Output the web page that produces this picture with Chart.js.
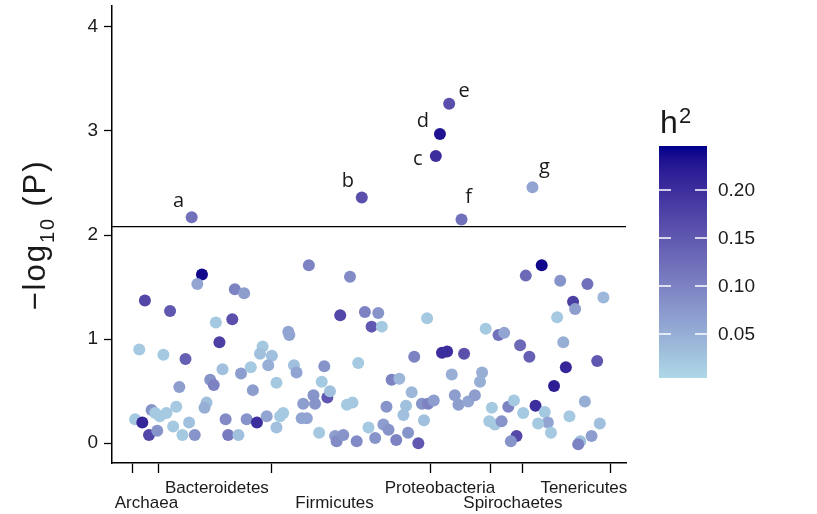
<!DOCTYPE html>
<html>
<head>
<meta charset="utf-8">
<script src="https://cdn.jsdelivr.net/npm/chart.js@4.4.1/dist/chart.umd.min.js"></script>
<style>
  body { margin: 0; background: #fff; }
</style>
</head>
<body>
<canvas id="myChart" width="817" height="514"></canvas>
<script>
// Taxa association plot: -log10(P) per taxon, coloured by heritability (h2)

// Position of each taxon along the phylum-ordered axis (0..100)
const positions = [
  17.5, 16.6, 23.9, 25.7, 6.4, 11.3, 20.2, 23.4, 20.9, 5.3,
  10.0, 14.3, 29.3, 28.8, 31.1, 30.4, 21.5, 25.1, 27.0, 13.1,
  19.1, 19.8, 27.4, 32.0, 18.4, 18.0, 7.7, 8.4, 9.3, 10.6,
  12.5, 4.5, 5.9, 7.2, 8.8, 11.9, 13.7, 15.0, 16.1, 22.1,
  22.6, 24.6, 26.2, 28.2, 30.1, 32.0,
  38.3, 46.3, 44.4, 49.2, 51.8, 50.5, 52.5, 61.3, 34.5, 34.3,
  35.4, 35.9, 41.3, 47.9, 40.8, 54.4, 55.9, 58.8, 64.2, 58.3,
  39.2, 39.5, 41.9, 42.4, 37.2, 45.7, 46.8, 33.3, 32.7, 36.9,
  37.9, 53.4, 57.2, 56.7, 60.3, 61.5, 62.6, 60.7, 40.3, 43.4,
  43.7, 45.0, 47.6, 49.9, 51.2, 52.8, 53.8, 55.3, 57.6, 59.6,
  83.6, 80.5, 87.2, 92.5, 95.6, 89.7, 90.1, 86.6, 72.7, 75.2,
  76.3, 79.4, 81.2, 87.8, 65.2, 68.5, 88.3, 94.4, 86.0, 66.1,
  72.0, 71.6, 66.7, 67.4, 69.3, 70.6, 73.9, 73.4, 74.5, 75.8,
  77.1, 78.2, 80.0, 82.4, 84.2, 84.8, 82.9, 85.4, 78.7, 77.6,
  89.0, 92.0, 94.9, 93.3, 91.1, 90.7
];

const logP = [
  1.62, 1.53, 1.48, 1.44, 1.37, 1.27, 1.16, 1.19, 0.97, 0.90,
  0.85, 0.81, 0.93, 0.86, 0.84, 0.75, 0.71, 0.67, 0.73, 0.54,
  0.61, 0.56, 0.51, 0.58, 0.39, 0.34, 0.32, 0.29, 0.26, 0.29,
  0.35, 0.23, 0.20, 0.08, 0.12, 0.16, 0.08, 0.20, 0.08, 0.23,
  0.08, 0.08, 0.23, 0.20, 0.26, 0.15,
  1.71, 1.60, 1.23, 1.26, 1.25, 1.12, 1.12, 1.20, 1.04, 1.07,
  0.75, 0.68, 0.74, 0.77, 0.59, 0.61, 0.62, 0.83, 0.87, 0.49,
  0.46, 0.38, 0.44, 0.50, 0.38, 0.37, 0.39, 0.29, 0.26, 0.24,
  0.24, 0.35, 0.36, 0.27, 0.38, 0.38, 0.41, 0.22, 0.10, 0.07,
  0.02, 0.08, 0.02, 0.15, 0.05, 0.18, 0.13, 0.03, 0.10, 0.00,
  1.71, 1.61, 1.56, 1.53, 1.40, 1.36, 1.29, 1.21, 1.10, 1.04,
  1.06, 0.94, 0.83, 0.97, 0.88, 0.86, 0.73, 0.79, 0.55, 0.66,
  0.68, 0.59, 0.46, 0.37, 0.40, 0.46, 0.34, 0.21, 0.18, 0.21,
  0.35, 0.41, 0.29, 0.36, 0.30, 0.20, 0.19, 0.10, 0.07, 0.02,
  0.26, 0.40, 0.19, 0.07, 0.02, -0.01
];

const h2 = [
  0.24, 0.06, 0.10, 0.07, 0.17, 0.15, 0.02, 0.16, 0.18, 0.02,
  0.02, 0.14, 0.02, 0.03, 0.03, 0.05, 0.03, 0.07, 0.02, 0.07,
  0.08, 0.10, 0.07, 0.02, 0.03, 0.05, 0.08, 0.02, 0.02, 0.02,
  0.02, 0.02, 0.21, 0.17, 0.08, 0.02, 0.02, 0.03, 0.08, 0.09,
  0.11, 0.03, 0.08, 0.20, 0.06, 0.03,
  0.10, 0.09, 0.17, 0.10, 0.08, 0.15, 0.02, 0.02, 0.06, 0.06,
  0.03, 0.06, 0.08, 0.02, 0.02, 0.10, 0.04, 0.10, 0.20, 0.04,
  0.08, 0.08, 0.15, 0.03, 0.07, 0.02, 0.02, 0.02, 0.02, 0.06,
  0.06, 0.08, 0.03, 0.03, 0.08, 0.10, 0.07, 0.03, 0.02, 0.07,
  0.09, 0.08, 0.09, 0.02, 0.08, 0.07, 0.08, 0.10, 0.08, 0.15,
  0.24, 0.13, 0.08, 0.12, 0.04, 0.18, 0.07, 0.02, 0.02, 0.12,
  0.06, 0.13, 0.14, 0.05, 0.20, 0.16, 0.21, 0.15, 0.22, 0.05,
  0.05, 0.05, 0.07, 0.07, 0.06, 0.07, 0.02, 0.02, 0.02, 0.08,
  0.10, 0.02, 0.02, 0.20, 0.02, 0.06, 0.02, 0.02, 0.17, 0.08,
  0.02, 0.05, 0.03, 0.07, 0.03, 0.10
];

// Significant taxa, labelled a-g
const hitNames = ['a', 'b', 'c', 'd', 'e', 'f', 'g'];
const hitPositions = [15.5, 48.6, 63.0, 63.8, 65.6, 68.0, 81.8];
const hitLogP = [2.17, 2.36, 2.76, 2.97, 3.26, 2.15, 2.46];
const hitH2 = [0.12, 0.16, 0.20, 0.23, 0.16, 0.12, 0.06];

// Significance threshold
const threshold = 2.08;

// Phylum axis: tick boundaries and label centres
const phylumTicks = [4.0, 9.0, 31.1, 61.9, 73.7, 79.9, 96.9];
const phylumNames = ['Archaea', 'Bacteroidetes', 'Firmicutes', 'Proteobacteria', 'Spirochaetes', 'Tenericutes'];
const phylumCentres = [6.7, 20.4, 43.3, 63.8, 78.0, 91.8];
const phylumRows = [2, 1, 2, 1, 2, 1];

const yTicks = [0, 1, 2, 3, 4];
const h2Range = [0.004, 0.246];
const h2LegendTicks = [0.05, 0.10, 0.15, 0.20];

// label offsets (px) for the a-g annotations
const hitLabelOffsets = [[-13, -16], [-14, -16], [-18, 3], [-17, -13], [15, -13], [7, -22], [12, -20]];

// Colour scale: lightblue -> darkblue interpolated in Lab space
const lowRGB = [173, 216, 230];
const highRGB = [0, 0, 139];

function toLinear(c) {
  c /= 255;
  return c <= 0.04045 ? c / 12.92 : Math.pow((c + 0.055) / 1.055, 2.4);
}
function toSrgb(c) {
  const v = c <= 0.0031308 ? 12.92 * c : 1.055 * Math.pow(c, 1 / 2.4) - 0.055;
  return Math.round(Math.min(1, Math.max(0, v)) * 255);
}
function rgbToLab(rgb) {
  const [r, g, b] = rgb.map(toLinear);
  const x = (0.4124 * r + 0.3576 * g + 0.1805 * b) / 0.95047;
  const y = 0.2126 * r + 0.7152 * g + 0.0722 * b;
  const z = (0.0193 * r + 0.1192 * g + 0.9505 * b) / 1.08883;
  const f = t => t > 0.008856 ? Math.cbrt(t) : 7.787 * t + 16 / 116;
  return [116 * f(y) - 16, 500 * (f(x) - f(y)), 200 * (f(y) - f(z))];
}
function labToRgb(lab) {
  const fy = (lab[0] + 16) / 116, fx = fy + lab[1] / 500, fz = fy - lab[2] / 200;
  const inv = t => t * t * t > 0.008856 ? t * t * t : (t - 16 / 116) / 7.787;
  const x = inv(fx) * 0.95047, y = inv(fy), z = inv(fz) * 1.08883;
  return [
    toSrgb(3.2406 * x - 1.5372 * y - 0.4986 * z),
    toSrgb(-0.9689 * x + 1.8758 * y + 0.0415 * z),
    toSrgb(0.0557 * x - 0.2040 * y + 1.0570 * z)
  ];
}
const lowLab = rgbToLab(lowRGB);
const highLab = rgbToLab(highRGB);

function h2Color(h) {
  let t = (h - h2Range[0]) / (h2Range[1] - h2Range[0]);
  t = Math.min(1, Math.max(0, t));
  const rgb = labToRgb(lowLab.map((v, i) => v + (highLab[i] - v) * t));
  return 'rgb(' + rgb.join(',') + ')';
}

const textColor = '#1a1a1a';
const fontFamily = '"Liberation Sans", Arial, sans-serif';

// Extra drawing: axis title with subscript, phylum names, hit labels, colour bar
const extras = {
  id: 'extras',
  afterDraw(chart) {
    const ctx = chart.ctx;
    const xs = chart.scales.x;
    const ys = chart.scales.y;
    const area = chart.chartArea;

    // y axis title: -log10 (P)
    ctx.save();
    ctx.fillStyle = textColor;
    ctx.translate(45, 235);
    ctx.rotate(-Math.PI / 2);
    ctx.textBaseline = 'alphabetic';
    ctx.textAlign = 'left';
    ctx.letterSpacing = '2px';
    const bigFont = '31px ' + fontFamily;
    const smallFont = '20px ' + fontFamily;
    ctx.font = bigFont;
    const wLog = ctx.measureText('\u2212log').width;
    const wP = ctx.measureText('(P)').width;
    ctx.font = smallFont;
    const wSub = ctx.measureText('10').width;
    const gap = 10;
    let cx = -(wLog + wSub + gap + wP) / 2;
    ctx.font = bigFont;
    ctx.fillText('\u2212log', cx, 0);
    cx += wLog;
    ctx.font = smallFont;
    ctx.fillText('10', cx, 9);
    cx += wSub + gap;
    ctx.font = bigFont;
    ctx.fillText('(P)', cx, 0);
    ctx.restore();

    // phylum names under the x axis, two staggered rows
    ctx.save();
    ctx.fillStyle = textColor;
    ctx.font = '17px ' + fontFamily;
    ctx.textAlign = 'center';
    ctx.textBaseline = 'alphabetic';
    phylumNames.forEach((name, i) => {
      const px = xs.getPixelForValue(phylumCentres[i]);
      const py = phylumRows[i] === 1 ? 493 : 508;
      ctx.fillText(name, px, py);
    });
    ctx.restore();

    // hit labels
    ctx.save();
    ctx.fillStyle = textColor;
    ctx.font = '20px "Open Sans", ' + fontFamily;
    ctx.textAlign = 'center';
    ctx.textBaseline = 'middle';
    hitNames.forEach((name, i) => {
      const px = xs.getPixelForValue(hitPositions[i]) + hitLabelOffsets[i][0];
      const py = ys.getPixelForValue(hitLogP[i]) + hitLabelOffsets[i][1];
      ctx.fillText(name, px, py);
    });
    ctx.restore();

    // colour bar legend
    const barLeft = 659, barWidth = 48, barTop = 146, barBottom = 378;
    const grad = ctx.createLinearGradient(0, barBottom, 0, barTop);
    for (let s = 0; s <= 20; s++) {
      const h = h2Range[0] + (h2Range[1] - h2Range[0]) * s / 20;
      grad.addColorStop(s / 20, h2Color(h));
    }
    ctx.save();
    ctx.fillStyle = grad;
    ctx.fillRect(barLeft, barTop, barWidth, barBottom - barTop);
    ctx.strokeStyle = '#fff';
    ctx.lineWidth = 1.5;
    ctx.fillStyle = textColor;
    ctx.font = '19px ' + fontFamily;
    ctx.textAlign = 'left';
    ctx.textBaseline = 'middle';
    h2LegendTicks.forEach(v => {
      const py = barBottom - (v - h2Range[0]) / (h2Range[1] - h2Range[0]) * (barBottom - barTop);
      ctx.beginPath();
      ctx.moveTo(barLeft, py);
      ctx.lineTo(barLeft + 12, py);
      ctx.moveTo(barLeft + barWidth - 12, py);
      ctx.lineTo(barLeft + barWidth, py);
      ctx.stroke();
      ctx.fillText(v.toFixed(2), barLeft + barWidth + 11, py + 1);
    });
    // legend title h^2
    ctx.textBaseline = 'alphabetic';
    ctx.font = '32px ' + fontFamily;
    ctx.fillText('h', 660, 133);
    ctx.font = '22px ' + fontFamily;
    ctx.fillText('2', 679, 123);
    ctx.restore();
  }
};

const points = positions.map((x, i) => ({ x: x, y: logP[i] }));
const hits = hitPositions.map((x, i) => ({ x: x, y: hitLogP[i] }));

const chart = new Chart(document.getElementById('myChart'), {
  type: 'scatter',
  data: {
    datasets: [
      {
        label: 'taxa',
        data: points,
        pointRadius: 6,
        pointBorderWidth: 0,
        pointBackgroundColor: h2.map(h2Color),
        pointBorderColor: 'rgba(0,0,0,0)'
      },
      {
        label: 'hits',
        data: hits,
        pointRadius: 6,
        pointBorderWidth: 0,
        pointBackgroundColor: hitH2.map(h2Color),
        pointBorderColor: 'rgba(0,0,0,0)'
      },
      {
        type: 'line',
        label: 'threshold',
        data: [{ x: 0, y: threshold }, { x: 100, y: threshold }],
        borderColor: '#000',
        borderWidth: 1.3,
        pointRadius: 0
      }
    ]
  },
  options: {
    responsive: false,
    animation: false,
    events: [],
    layout: { padding: { left: 0, right: 191, top: 5, bottom: 0 } },
    plugins: {
      legend: { display: false },
      tooltip: { enabled: false }
    },
    scales: {
      x: {
        type: 'linear',
        min: 0,
        max: 100,
        afterBuildTicks: s => { s.ticks = phylumTicks.map(v => ({ value: v })); },
        afterFit: s => { s.height = 51; s.paddingLeft = 0; s.paddingRight = 0; },
        ticks: { autoSkip: false, callback: () => '' },
        grid: { drawOnChartArea: false, drawTicks: true, tickLength: 10, color: '#000', tickWidth: 1.3 },
        border: { color: '#000', width: 1.5 }
      },
      y: {
        min: -0.19,
        max: 4.2,
        afterBuildTicks: s => { s.ticks = yTicks.map(v => ({ value: v })); },
        afterFit: s => { s.width = 112; s.paddingTop = 0; s.paddingBottom = 0; },
        ticks: {
          color: textColor,
          font: { family: fontFamily, size: 19 },
          padding: 6
        },
        grid: { drawOnChartArea: false, drawTicks: true, tickLength: 8, color: '#000', tickWidth: 1.3 },
        border: { color: '#000', width: 1.5 }
      }
    }
  },
  plugins: [extras]
});
</script>
</body>
</html>
